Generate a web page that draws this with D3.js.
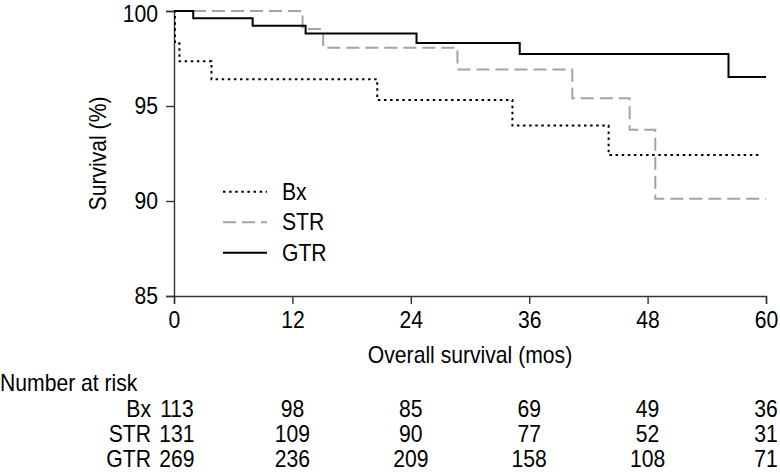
<!DOCTYPE html>
<html>
<head>
<meta charset="utf-8">
<script src="https://cdn.jsdelivr.net/npm/d3@7"></script>
<style>
  html, body { margin: 0; padding: 0; background: #fff; }
  svg text { font-family: "Liberation Sans", Arial, Helvetica, sans-serif; fill: #000; }
</style>
</head>
<body>
<svg id="chart" width="780" height="475"></svg>
<script>
// ---- data ----
const groups = ["Bx", "STR", "GTR"];
const bxTimes = [0, 0.1, 0.55, 3.8, 20.6, 34.3, 44.05, 59.5];
const bxSurv  = [100, 98.3, 97.35, 96.41, 95.32, 93.97, 92.42, 92.42];
const strTimes = [0, 13.03, 15.12, 28.73, 40.37, 46.18, 48.78, 60];
const strSurv  = [100, 99.05, 98.07, 96.92, 95.41, 93.75, 90.12, 90.12];
const gtrTimes = [0, 1.95, 7.97, 13.34, 24.58, 35.04, 56.2, 60];
const gtrSurv  = [100, 99.62, 99.23, 98.81, 98.32, 97.74, 96.52, 96.52];
const xTicks = [0, 12, 24, 36, 48, 60];
const yTicks = [85, 90, 95, 100];
const riskBx  = [113, 98, 85, 69, 49, 36];
const riskSTR = [131, 109, 90, 77, 52, 31];
const riskGTR = [269, 236, 209, 158, 108, 71];

const svg = d3.select("#chart");
const x = d3.scaleLinear().domain([0, 60]).range([174, 766]);
const y = d3.scaleLinear().domain([85, 100]).range([296, 11]);
const FS = 23;
const SX = 0.92;

// make text slightly condensed (Helvetica-like proportions) keeping its anchor point
function condense(sel) {
  sel.each(function () {
    const t = d3.select(this);
    const tx = +t.attr("x") || 0, ty = +t.attr("y") || 0;
    const prev = t.attr("transform") || "";
    t.attr("x", 0).attr("y", 0)
     .attr("transform", `${prev} translate(${tx},${ty}) scale(${SX},1)`)
     .style("font-size", FS + "px");
  });
}

const styles = {
  Bx:  { stroke: "#000", dash: "2.5,3.6", width: 2 },
  STR: { stroke: "#a3a3a3", dash: "13,6", width: 2 },
  GTR: { stroke: "#000", dash: null, width: 2 }
};
const series = [
  { name: "Bx",  t: bxTimes,  s: bxSurv },
  { name: "STR", t: strTimes, s: strSurv },
  { name: "GTR", t: gtrTimes, s: gtrSurv }
];

// axes
const yAxis = d3.axisLeft(y).tickValues(yTicks).tickSizeOuter(0).tickSize(8).tickPadding(8);
const gy = svg.append("g").attr("transform", `translate(${x(0)},0)`).call(yAxis);
const xAxis = d3.axisBottom(x).tickValues(xTicks).tickSizeOuter(0).tickSize(8).tickPadding(8);
const gx = svg.append("g").attr("transform", `translate(0,${y(85)})`).call(xAxis);
[gx, gy].forEach(g => {
  g.attr("font-size", null).attr("font-family", null);
  g.selectAll("path, line").attr("stroke", "#333").attr("stroke-width", 1.4);
  g.selectAll("text").attr("fill", "#000").call(condense);
});
// keep the top label ("100") fully inside the picture
gy.selectAll(".tick text").filter(d => d === 100).attr("dy", "0.44em");

// lines
const line = d3.line().x(d => x(d[0])).y(d => y(d[1])).curve(d3.curveStepAfter);
series.forEach(sr => {
  const pts = sr.t.map((t, i) => [t, sr.s[i]]);
  const st = styles[sr.name];
  svg.append("path").datum(pts)
    .attr("d", line)
    .attr("fill", "none")
    .attr("stroke", st.stroke)
    .attr("stroke-width", st.width)
    .attr("stroke-dasharray", st.dash);
});

// axis titles
svg.append("text")
  .attr("x", x(30)).attr("y", 363)
  .attr("text-anchor", "middle")
  .text("Overall survival (mos)").call(condense);
svg.append("text")
  .attr("transform", `translate(106,${(y(85) + y(100)) / 2}) rotate(-90)`)
  .attr("text-anchor", "middle")
  .text("Survival (%)").call(condense);

// legend
const legY = [191.7, 222.2, 252.7];
groups.forEach((gname, i) => {
  const st = styles[gname];
  svg.append("line")
    .attr("x1", 223).attr("x2", 267)
    .attr("y1", legY[i]).attr("y2", legY[i])
    .attr("stroke", st.stroke).attr("stroke-width", st.width)
    .attr("stroke-dasharray", st.dash);
  svg.append("text")
    .attr("x", 282).attr("y", legY[i]).attr("dy", "0.36em")
    .text(gname).call(condense);
});

// number at risk table
svg.append("text").attr("x", 0).attr("y", 391).text("Number at risk").call(condense);
const risk = { Bx: riskBx, STR: riskSTR, GTR: riskGTR };
const rowY = [416.5, 441.5, 466.5];
groups.forEach((gname, i) => {
  svg.append("text").attr("x", 151).attr("y", rowY[i]).attr("text-anchor", "end")
    .text(gname).call(condense);
  svg.selectAll(null).data(risk[gname]).enter().append("text")
    .attr("x", (d, j) => j === 0 ? x(xTicks[j]) + 3 : x(xTicks[j]))
    .attr("y", rowY[i])
    .attr("text-anchor", "middle")
    .text(d => d).call(condense);
});
</script>
</body>
</html>
